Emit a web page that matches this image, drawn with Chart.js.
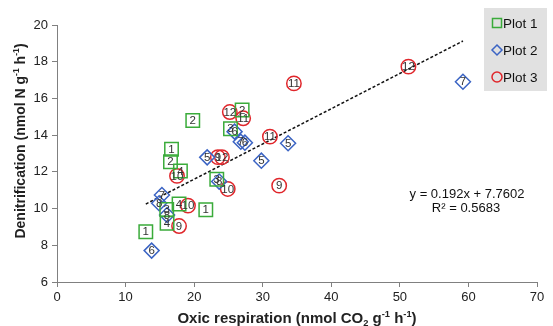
<!DOCTYPE html>
<html>
<head>
<meta charset="utf-8">
<script src="https://cdn.jsdelivr.net/npm/chart.js@4/dist/chart.umd.min.js"></script>
<style>
  html, body { margin: 0; padding: 0; background: #fff; }
  #wrap { position: relative; width: 553px; height: 326px; }
</style>
</head>
<body>
<div id="wrap"><canvas id="scatter" width="553" height="326"></canvas></div>
<script>
// DATOS: respiración óxica (x) vs desnitrificación (y), etiqueta = muestra
const plot1X = [12.95, 16.7, 16.55, 19.8, 18.0, 16.0, 17.8, 16.05, 21.7, 23.3, 25.3, 27.0];
const plot1Y = [8.74, 13.23, 12.55, 14.8, 12.05, 9.95, 10.25, 9.2, 9.94, 11.6, 14.35, 15.37];
const plot1Labels = ['1', '1', '2', '2', '4', '3', '4', '4', '1', '3', '3', '2'];

const plot2X = [13.8, 15.3, 14.9, 16.05, 21.9, 23.65, 25.9, 26.8, 27.4, 29.8, 33.7, 59.2];
const plot2Y = [7.71, 10.74, 10.29, 9.65, 12.79, 11.47, 14.19, 13.64, 13.59, 12.61, 13.56, 16.91];
const plot2Labels = ['6', '7', '8', '8', '5', '8', '6', '7', '6', '5', '5', '7'];

const plot3X = [17.8, 19.1, 17.5, 23.46, 24.05, 24.9, 25.2, 27.15, 31.05, 34.55, 32.4, 51.25];
const plot3Y = [9.05, 10.16, 11.78, 12.8, 12.8, 11.07, 15.26, 14.92, 13.92, 16.82, 11.25, 17.73];
const plot3Labels = ['9', '10', '10', '9', '12', '10', '12', '11', '11', '11', '9', '12'];

const seriesNames = ['Plot 1', 'Plot 2', 'Plot 3'];
const xTicks = [0, 10, 20, 30, 40, 50, 60, 70];
const yTicks = [6, 8, 10, 12, 14, 16, 18, 20];

// regresión lineal (todas las parcelas)
const slope = 0.192;
const intercept = 7.7602;
const rSquared = 0.5683;

const FONT = '"Liberation Sans", Arial, sans-serif';
const GREEN = '#3aab3a';
const BLUE = '#3b64c4';
const RED = '#e0262b';

function toPoints(xs, ys) {
    return xs.map((x, i) => ({ x: x, y: ys[i] }));
}

const allX = plot1X.concat(plot2X, plot3X);
const xMin = Math.min(...allX);
const xMax = Math.max(...allX);
const trend = [
    { x: xMin, y: slope * xMin + intercept },
    { x: xMax, y: slope * xMax + intercept }
];

// etiquetas dentro de cada marcador
const pointLabels = {
    id: 'pointLabels',
    afterDatasetsDraw(chart) {
        const ctx = chart.ctx;
        ctx.save();
        ctx.font = '11.5px ' + FONT;
        ctx.fillStyle = '#333';
        ctx.textAlign = 'center';
        ctx.textBaseline = 'middle';
        chart.data.datasets.forEach((ds, i) => {
            if (!ds.pointText) return;
            chart.getDatasetMeta(i).data.forEach((pt, j) => {
                ctx.fillText(ds.pointText[j], pt.x, pt.y + 0.5);
            });
        });
        ctx.restore();
    }
};

// títulos de ejes con sub/superíndices, ecuación y leyenda
const extras = {
    id: 'extras',
    afterDraw(chart) {
        const ctx = chart.ctx;
        ctx.save();
        ctx.fillStyle = '#222';
        ctx.textBaseline = 'alphabetic';

        function runs(parts, size) {
            // parts: [texto, desplazamiento] ; devuelve ancho total
            let w = 0;
            parts.forEach(p => {
                ctx.font = 'bold ' + (p[1] ? size * 0.62 : size) + 'px ' + FONT;
                w += ctx.measureText(p[0]).width;
            });
            return w;
        }
        function drawRuns(parts, size, x, y) {
            parts.forEach(p => {
                ctx.font = 'bold ' + (p[1] ? size * 0.62 : size) + 'px ' + FONT;
                ctx.textAlign = 'left';
                ctx.fillText(p[0], x, y + p[1] * size);
                x += ctx.measureText(p[0]).width;
            });
        }

        const xTitle = [['Oxic respiration (nmol CO', 0], ['2', 0.22], [' g', 0], ['-1', -0.42], [' h', 0], ['-1', -0.42], [')', 0]];
        const yTitle = [['Denitrification (nmol N g', 0], ['-1', -0.42], [' h', 0], ['-1', -0.42], [')', 0]];

        const area = chart.chartArea;
        let w = runs(xTitle, 15);
        drawRuns(xTitle, 15, (area.left + area.right) / 2 - w / 2, 323);

        ctx.translate(25, 141);
        ctx.rotate(-Math.PI / 2);
        w = runs(yTitle, 14);
        drawRuns(yTitle, 14, -w / 2, 0);
        ctx.setTransform(1, 0, 0, 1, 0, 0);

        // ecuación de la recta
        ctx.font = '13px ' + FONT;
        ctx.textAlign = 'center';
        ctx.fillStyle = '#111';
        ctx.fillText('y = ' + slope + 'x + ' + intercept, 467, 198);
        ctx.fillText('R\u00b2 = ' + rSquared, 466, 212);

        // leyenda
        ctx.fillStyle = '#e1e1e1';
        ctx.fillRect(484, 8, 63, 83);
        const colors = [GREEN, BLUE, RED];
        const rows = [23, 50, 77];
        ctx.font = '13.5px ' + FONT;
        ctx.textAlign = 'left';
        ctx.textBaseline = 'middle';
        rows.forEach((ry, i) => {
            ctx.strokeStyle = colors[i];
            ctx.lineWidth = 1.5;
            ctx.beginPath();
            if (i === 0) {
                ctx.rect(492.5, ry - 4.5, 9, 9);
            } else if (i === 1) {
                ctx.moveTo(497, ry - 5); ctx.lineTo(502, ry); ctx.lineTo(497, ry + 5); ctx.lineTo(492, ry); ctx.closePath();
            } else {
                ctx.arc(497, ry, 5, 0, Math.PI * 2);
            }
            ctx.stroke();
            ctx.fillStyle = '#111';
            ctx.fillText(seriesNames[i], 503, ry + 1);
        });
        ctx.restore();
    }
};

const scatterCtx = document.getElementById('scatter').getContext('2d');
const chart = new Chart(scatterCtx, {
    type: 'scatter',
    data: {
        datasets: [{
            label: seriesNames[0],
            data: toPoints(plot1X, plot1Y),
            pointText: plot1Labels,
            pointStyle: 'rect',
            radius: 9.5,
            borderColor: GREEN,
            backgroundColor: 'rgba(0,0,0,0)',
            borderWidth: 1.5
        }, {
            label: seriesNames[1],
            data: toPoints(plot2X, plot2Y),
            pointText: plot2Labels,
            pointStyle: 'rectRot',
            radius: 7.5,
            borderColor: BLUE,
            backgroundColor: 'rgba(0,0,0,0)',
            borderWidth: 1.5
        }, {
            label: seriesNames[2],
            data: toPoints(plot3X, plot3Y),
            pointText: plot3Labels,
            pointStyle: 'circle',
            radius: 7.2,
            borderColor: RED,
            backgroundColor: 'rgba(0,0,0,0)',
            borderWidth: 1.5
        }, {
            type: 'line',
            label: 'trend',
            data: trend,
            borderColor: '#111',
            borderWidth: 1.5,
            borderDash: [3, 2],
            pointRadius: 0,
            fill: false
        }]
    },
    options: {
        responsive: false,
        animation: false,
        events: [],
        layout: { padding: { top: 25, right: 16, left: 0, bottom: 0 } },
        plugins: {
            legend: { display: false },
            tooltip: { enabled: false }
        },
        scales: {
            x: {
                type: 'linear',
                min: 0,
                max: 70,
                afterBuildTicks: s => { s.ticks = xTicks.map(v => ({ value: v })); },
                afterFit: s => { s.height = 44; },
                grid: { drawOnChartArea: false, tickLength: 5, color: '#808080' },
                border: { color: '#808080', width: 1 },
                ticks: { color: '#222', font: { family: FONT, size: 13 }, padding: 3, maxRotation: 0 }
            },
            y: {
                type: 'linear',
                min: 6,
                max: 20,
                afterBuildTicks: s => { s.ticks = yTicks.map(v => ({ value: v })); },
                afterFit: s => { s.width = 57; },
                grid: { drawOnChartArea: false, tickLength: 5, color: '#808080' },
                border: { color: '#808080', width: 1 },
                ticks: { color: '#222', font: { family: FONT, size: 13 }, padding: 4 }
            }
        }
    },
    plugins: [pointLabels, extras]
});
</script>
</body>
</html>
